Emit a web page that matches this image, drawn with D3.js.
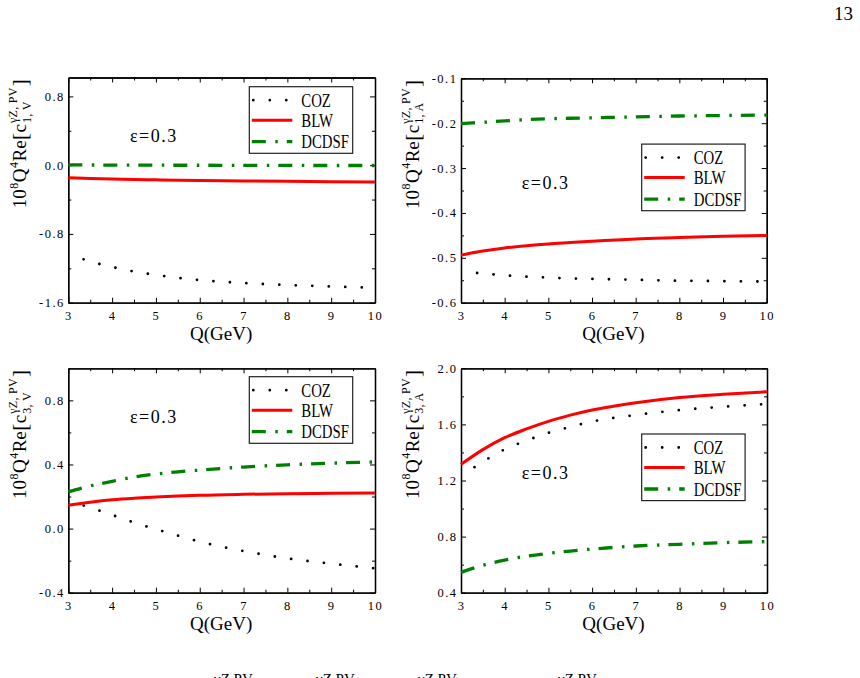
<!DOCTYPE html>
<html>
<head>
<meta charset="utf-8">
<script src="https://cdn.jsdelivr.net/npm/d3@7"></script>
<style>
  body { margin: 0; background: #fff; }
  svg { display: block; }
  svg text { font-family: "Liberation Serif", "Times New Roman", Times, serif; fill: #000; }
</style>
</head>
<body>
<svg id="chart" width="860" height="678"></svg>
<script>
// Q values (GeV) the curves were read at
const qValues = [3, 3.5, 4, 4.5, 5, 5.5, 6, 7, 8, 9, 10];

// c1,V
const c1vCOZ   = [-1.03, -1.12, -1.185, -1.237, -1.277, -1.311, -1.337, -1.371, -1.394, -1.411, -1.427];
const c1vBLW   = [-0.147, -0.155, -0.162, -0.167, -0.171, -0.174, -0.177, -0.183, -0.188, -0.192, -0.195];
const c1vDCDSF = [0.003, 0.002, 0.001, 0.0, 0.0, -0.001, -0.001, -0.002, -0.003, -0.004, -0.004];

// c1,A
const c1aCOZ   = [-0.530, -0.535, -0.539, -0.542, -0.544, -0.546, -0.547, -0.549, -0.551, -0.552, -0.553];
const c1aBLW   = [-0.494, -0.485, -0.478, -0.473, -0.469, -0.466, -0.463, -0.458, -0.455, -0.452, -0.450];
const c1aDCDSF = [-0.201, -0.198, -0.195, -0.192, -0.190, -0.189, -0.188, -0.186, -0.184, -0.183, -0.182];

// c3,V
const c3vCOZ   = [0.173, 0.131, 0.085, 0.038, -0.004, -0.044, -0.082, -0.140, -0.186, -0.219, -0.248];
const c3vBLW   = [0.146, 0.165, 0.180, 0.190, 0.197, 0.203, 0.208, 0.214, 0.218, 0.220, 0.222];
const c3vDCDSF = [0.229, 0.266, 0.295, 0.322, 0.340, 0.354, 0.365, 0.384, 0.398, 0.408, 0.416];

// c3,A
const c3aCOZ   = [1.23, 1.333, 1.422, 1.485, 1.540, 1.582, 1.620, 1.667, 1.702, 1.726, 1.746];
const c3aBLW   = [1.315, 1.420, 1.505, 1.568, 1.622, 1.666, 1.703, 1.755, 1.792, 1.815, 1.833];
const c3aDCDSF = [0.545, 0.595, 0.633, 0.660, 0.680, 0.697, 0.711, 0.733, 0.745, 0.757, 0.764];

const seriesNames = ["COZ", "BLW", "DCDSF"];
const xMajor = [3, 4, 5, 6, 7, 8, 9, 10];
const xMinor = [3.5, 4.5, 5.5, 6.5, 7.5, 8.5, 9.5];

const yMajor1 = [-1.6, -0.8, 0.0, 0.8];
const yMinor1 = [-1.2, -0.4, 0.4];
const yMajor2 = [-0.6, -0.5, -0.4, -0.3, -0.2, -0.1];
const yMinor2 = [-0.55, -0.45, -0.35, -0.25, -0.15];
const yMajor3 = [-0.4, 0.0, 0.4, 0.8];
const yMinor3 = [-0.2, 0.2, 0.6];
const yMajor4 = [0.4, 0.8, 1.2, 1.6, 2.0];
const yMinor4 = [0.6, 1.0, 1.4, 1.8];

const subscripts = ["1, V", "1, A", "3, V", "3, A"];
const epsText = "ε=0.3";

const svg = d3.select("#chart");
svg.append("rect").attr("width", 860).attr("height", 678).attr("fill", "#fff");

const panels = [
  { left: 68.3, top: 77.5, right: 375, bottom: 302.7, yDomain: [-1.6, 1.02],
    yMajor: yMajor1, yMinor: yMinor1, data: [c1vCOZ, c1vBLW, c1vDCDSF], sub: subscripts[0],
    eps: [61.7, 64.2], legend: [181, 9.2] },
  { left: 461, top: 78.3, right: 766.7, bottom: 302.7, yDomain: [-0.6, -0.1],
    yMajor: yMajor2, yMinor: yMinor2, data: [c1aCOZ, c1aBLW, c1aDCDSF], sub: subscripts[1],
    eps: [60.7, 111], legend: [180.7, 65.8] },
  { left: 68.3, top: 368.3, right: 375, bottom: 592.7, yDomain: [-0.4, 1.0],
    yMajor: yMajor3, yMinor: yMinor3, data: [c3vCOZ, c3vBLW, c3vDCDSF], sub: subscripts[2],
    eps: [61.7, 55], legend: [181, 8.4] },
  { left: 461, top: 368.3, right: 767, bottom: 592.7, yDomain: [0.4, 2.0],
    yMajor: yMajor4, yMinor: yMinor4, data: [c3aCOZ, c3aBLW, c3aDCDSF], sub: subscripts[3],
    eps: [60.7, 110.7], legend: [180.7, 65.7] }
];

const styles = [
  { color: "#000", width: 2.8, dash: "0 16.5", cap: "round", offset: 0.3 },
  { color: "#ff0000", width: 3, dash: null, cap: "butt", offset: 0 },
  { color: "#008000", width: 3.3, dash: "14 9.5 2.5 9", cap: "butt", offset: 0 }
];

const fmt = d => d3.format(".1f")(d).replace("−", "-");

function styleAxis(g) {
  g.attr("font-size", 12.5);
  g.selectAll(".domain").attr("stroke", "#000").attr("stroke-width", 1.3);
  g.selectAll(".tick line").attr("stroke", "#000").attr("stroke-width", 1);
  g.selectAll(".tick text").attr("letter-spacing", 1.5);
}

function drawPanel(p) {
  const x = d3.scaleLinear().domain([3, 10]).range([p.left, p.right]);
  const y = d3.scaleLinear().domain(p.yDomain).range([p.bottom, p.top]);
  const g = svg.append("g");

  // minor ticks, all four sides, pointing inward
  g.append("g").attr("transform", `translate(0,${p.bottom})`)
    .call(d3.axisBottom(x).tickValues(xMinor).tickSize(-3).tickSizeOuter(0).tickFormat(""));
  g.append("g").attr("transform", `translate(0,${p.top})`)
    .call(d3.axisTop(x).tickValues(xMinor).tickSize(-3).tickSizeOuter(0).tickFormat(""));
  g.append("g").attr("transform", `translate(${p.left},0)`)
    .call(d3.axisLeft(y).tickValues(p.yMinor).tickSize(-3).tickSizeOuter(0).tickFormat(""));
  g.append("g").attr("transform", `translate(${p.right},0)`)
    .call(d3.axisRight(y).tickValues(p.yMinor).tickSize(-3).tickSizeOuter(0).tickFormat(""));

  // major ticks
  g.append("g").attr("transform", `translate(0,${p.bottom})`)
    .call(d3.axisBottom(x).tickValues(xMajor).tickSize(-5).tickSizeOuter(0).tickPadding(8).tickFormat(d3.format("d")))
    .call(styleAxis);
  g.append("g").attr("transform", `translate(0,${p.top})`)
    .call(d3.axisTop(x).tickValues(xMajor).tickSize(-5).tickSizeOuter(0).tickFormat(""))
    .call(styleAxis);
  g.append("g").attr("transform", `translate(${p.left},0)`)
    .call(d3.axisLeft(y).tickValues(p.yMajor).tickSize(-5).tickSizeOuter(0).tickPadding(3.5).tickFormat(fmt))
    .call(styleAxis);
  g.append("g").attr("transform", `translate(${p.right},0)`)
    .call(d3.axisRight(y).tickValues(p.yMajor).tickSize(-5).tickSizeOuter(0).tickFormat(""))
    .call(styleAxis);
  g.selectAll("g .tick line").attr("stroke", "#000");
  g.selectAll(".domain").attr("stroke", "#000").attr("stroke-width", 1.3);

  // curves
  const line = d3.line()
    .x((d, i) => x(qValues[i]))
    .y(d => y(d))
    .curve(d3.curveMonotoneX);

  p.data.forEach((s, i) => {
    const st = styles[i];
    g.append("path")
      .attr("d", line(s))
      .attr("fill", "none")
      .attr("stroke", st.color)
      .attr("stroke-width", st.width)
      .attr("stroke-linecap", st.cap)
      .attr("stroke-dasharray", st.dash)
      .attr("stroke-dashoffset", st.offset);
  });

  // x label
  g.append("text")
    .attr("x", (p.left + p.right) / 2 - 0.5)
    .attr("y", p.bottom + 37.5)
    .attr("text-anchor", "middle")
    .attr("font-size", 19)
    .text("Q(GeV)");

  // epsilon note
  g.append("text")
    .attr("x", p.left + p.eps[0])
    .attr("y", p.top + p.eps[1])
    .attr("font-size", 18)
    .attr("letter-spacing", 1.5)
    .text(epsText);

  // legend
  const lx = p.left + p.legend[0], ly = p.top + p.legend[1];
  const lg = g.append("g").attr("transform", `translate(${lx},${ly})`);
  lg.append("rect")
    .attr("width", 103.4).attr("height", 66.6)
    .attr("fill", "#fff").attr("stroke", "#222").attr("stroke-width", 1.2);
  const rows = [13.5, 33.5, 55];
  seriesNames.forEach((name, i) => {
    const st = styles[i];
    lg.append("line")
      .attr("x1", i === 0 ? 4 : 2.5).attr("x2", 43)
      .attr("y1", rows[i]).attr("y2", rows[i])
      .attr("stroke", st.color)
      .attr("stroke-width", st.width)
      .attr("stroke-linecap", st.cap)
      .attr("stroke-dasharray", st.dash);
    lg.append("g").attr("transform", `translate(52,${rows[i] + 6.7})`)
      .append("text")
      .attr("transform", "scale(0.76,1)")
      .attr("font-size", 19.5)
      .text(name);
  });

  // y label, built piece by piece along a rotated baseline
  drawYLabel(p.left - 42.3, p.top + 66, p.sub);
}

function drawYLabel(cx, cy, sub) {
  const lab = svg.append("g").attr("transform", `translate(${cx},${cy}) rotate(-90)`);
  const inner = lab.append("g");
  const parts = [
    { t: "10", s: 19, dy: 0 },
    { t: "8", s: 12, dy: -8.5 },
    { t: "Q", s: 19, dy: 0 },
    { t: "4", s: 12, dy: -8.5 },
    { t: "Re", s: 19, dy: 0 },
    { t: "[", s: 21, dy: 1 },
    { t: "c", s: 19, dy: 0 },
    { stack: true },
    { t: "]", s: 21, dy: 1 }
  ];
  let pos = 0;
  parts.forEach(pt => {
    if (pt.stack) {
      const up = inner.append("text").attr("x", pos + 0.5).attr("y", -9)
        .attr("font-size", 12).attr("letter-spacing", 0.3)
        .text("γZ, PV");
      const dn = inner.append("text").attr("x", pos + 0.5).attr("y", 4.5)
        .attr("font-size", 12).attr("letter-spacing", 0.3)
        .text(sub);
      pos += Math.max(up.node().getComputedTextLength(), dn.node().getComputedTextLength()) + 1.5;
    } else {
      const t = inner.append("text").attr("x", pos).attr("y", pt.dy)
        .attr("font-size", pt.s)
        .text(pt.t);
      pos += t.node().getComputedTextLength() + 0.5;
    }
  });
  inner.attr("transform", `translate(${-pos / 2},0)`);
}

panels.forEach(drawPanel);

// page number
svg.append("text")
  .attr("x", 853).attr("y", 20)
  .attr("text-anchor", "end")
  .attr("font-size", 19)
  .text("13");

// top of the caption line, cut by the page edge
const captionX = [214, 316, 418, 558];
captionX.forEach(cx => {
  svg.append("text")
    .attr("x", cx).attr("y", 683.5)
    .attr("font-size", 15)
    .text("γZ,PV");
});
</script>
</body>
</html>
